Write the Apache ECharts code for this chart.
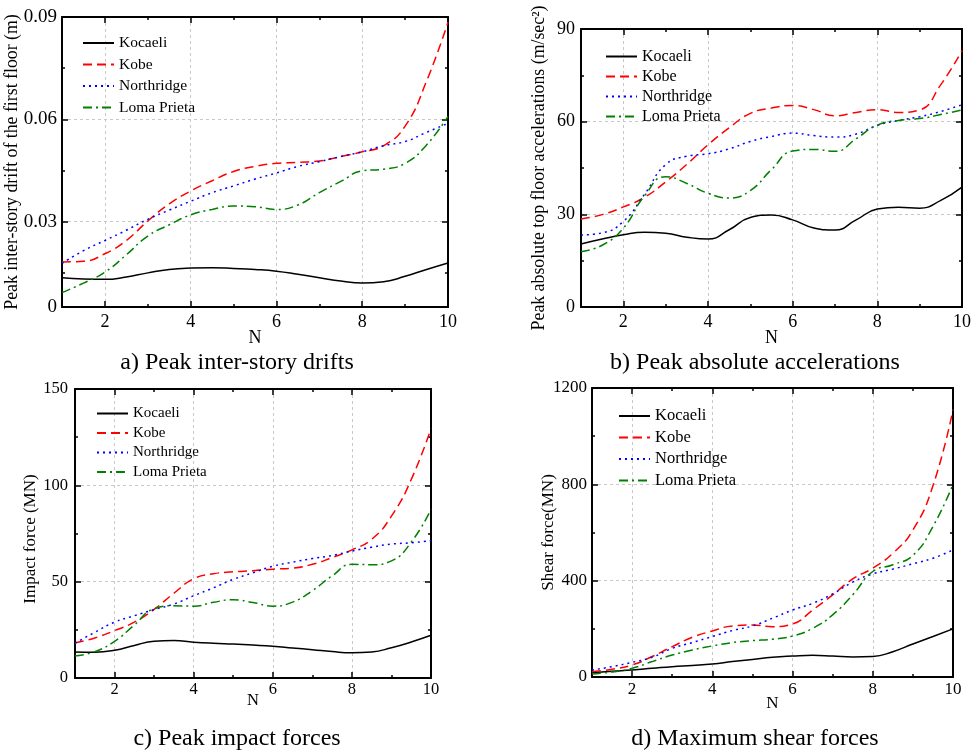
<!DOCTYPE html>
<html><head><meta charset="utf-8">
<script src="https://cdn.jsdelivr.net/npm/echarts@6/dist/echarts.min.js"></script>
<style>html,body{margin:0;padding:0;background:#fff}#c{width:976px;height:752px}</style>
</head><body><div id="c"></div>
<script>
// Story number N (sampled along the curves)
const N = [1,1.5,2,2.5,3,3.5,4,4.5,5,5.5,6,6.5,7,7.5,8,8.5,9,9.5,10];
const seriesNames = ['Kocaeli','Kobe','Northridge','Loma Prieta'];

// a) Peak inter-story drift of the first floor (m)
const kocaeliDrift = [0.0136,0.0132,0.0131,0.0138,0.0150,0.0160,0.0164,0.0165,0.0163,0.0160,0.0155,0.0146,0.0136,0.0126,0.0120,0.0124,0.0140,0.0160,0.0179];
const kobeDrift    = [0.0182,0.0184,0.0206,0.0245,0.0302,0.0352,0.0390,0.0420,0.0447,0.0462,0.0471,0.0474,0.0478,0.0491,0.0505,0.0523,0.0580,0.0712,0.0885];
const northDrift   = [0.0178,0.0215,0.0245,0.0275,0.0307,0.0334,0.0360,0.0385,0.0405,0.0425,0.0443,0.0462,0.0476,0.0491,0.0505,0.0523,0.0535,0.0562,0.0588];
const lomaDrift    = [0.0092,0.0120,0.0152,0.0203,0.0258,0.0291,0.0320,0.0336,0.0346,0.0344,0.0336,0.0349,0.0385,0.0418,0.0449,0.0454,0.0471,0.0525,0.0609];

// b) Peak absolute top floor accelerations (m/sec^2)
const kocaeliAcc = [20.4,22.0,23.4,24.2,23.9,22.6,22.0,25.0,29.0,29.8,28.2,25.6,24.9,28.2,31.7,32.3,32.0,34.5,38.8];
const kobeAcc    = [28.5,29.9,32.4,35.5,40.5,46.2,52.5,58.0,62.7,64.4,65.2,63.9,61.9,63.0,63.9,63.0,63.8,72.0,83.0];
const northAcc   = [23.3,24.0,27.7,36.5,46.1,48.8,49.6,51.2,53.6,55.2,56.3,55.5,55.0,56.0,58.8,60.4,61.6,63.3,65.5];
const lomaAcc    = [17.9,20.0,25.5,36.0,42.2,40.0,36.8,35.3,37.7,44.5,50.5,51.0,50.4,54.5,58.9,60.4,61.0,62.3,63.8];

// c) Impact force (MN)
const kocaeliImp = [13.5,13.4,14.4,16.9,19.1,19.5,18.6,18.0,17.6,17.1,16.5,15.6,14.7,13.7,13.1,13.5,15.7,18.7,22.2];
const kobeImp    = [18.2,20.8,24.6,29.0,35.6,44.0,51.5,54.1,55.1,55.7,56.5,57.0,59.0,62.5,66.5,72.0,84.0,103.0,129.5];
const northImp   = [18.1,23.7,29.0,32.3,35.5,38.4,42.7,46.8,51.2,54.6,58.0,60.1,62.0,63.6,65.9,67.9,69.5,70.2,71.3];
const lomaImp    = [11.4,13.7,19.0,27.5,36.0,37.5,37.3,39.3,40.6,39.2,37.3,39.4,45.3,53.0,59.0,58.8,60.8,70.5,87.5];

// d) Shear force (MN)
const kocaeliShear = [18,24,29,36,43,48,54,64,73,82,87,90,87,83,85,105,137,168,200];
const kobeShear    = [22,32,50,85,126,165,191,212,216,209,220,278,341,407,452,514,610,794,1110];
const northShear   = [29,43,61,82,119,143,168,193,212,244,278,306,345,394,428,448,470,493,528];
const lomaShear    = [12,21,36,64,91,112,129,143,151,157,170,202,258,341,438,466,505,625,800];

// tick values
const xMajorTicks = [2,4,6,8,10];
const xMinorTicks = [3,5,7,9];
const yTicksA = {min:0.005, max:0.09, major:[0.03,0.06,0.09], minor:[0.015,0.045,0.075], labels:[0.005,0.03,0.06,0.09]};
const yTicksB = {min:0, max:90, major:[0,30,60,90], minor:[15,45,75], labels:[0,30,60,90]};
const yTicksC = {min:0, max:150, major:[0,50,100,150], minor:[25,75,125], labels:[0,50,100,150]};
const yTicksD = {min:0, max:1200, major:[0,400,800,1200], minor:[200,600,1000], labels:[0,400,800,1200]};

const FONT = 'Liberation Serif';
const colors = ['#000000','#ff0000','#0000ff','#008000'];
const dashes = ['solid',[9,5],[2,4],[9,4,2,4]];

const panels = [
  {grid:{left:62,top:17,width:386,height:290}, y:yTicksA, yFmt:v => (v < 0.01 ? '0' : String(v)),
   yName:'Peak inter-story drift of the first floor (m)', yNameGap:41, yNameSize:17.8, yNamePad:[0,0,0,0], yLabelMargin:5,
   xLabelMargin:6, xNameGap:22, xFont:18, yFont:19,
   data:[kocaeliDrift,kobeDrift,northDrift,lomaDrift],
   legend:{left:82,top:35,gap:5.5,size:15.5},
   title:{text:'a) Peak inter-story drifts', x:237, y:363}},
  {grid:{left:581,top:29,width:381,height:278}, y:yTicksB, yFmt:v => String(v),
   yName:'Peak absolute top floor accelerations (m/sec\u00B2)', yNameGap:33, yNameSize:17.8, yNamePad:[0,0,0,0], yLabelMargin:6,
   xLabelMargin:6, xNameGap:22, xFont:18, yFont:18,
   data:[kocaeliAcc,kobeAcc,northAcc,lomaAcc],
   legend:{left:605,top:48.5,gap:4,size:16},
   title:{text:'b) Peak absolute accelerations', x:755, y:363}},
  {grid:{left:75,top:389,width:356,height:289}, y:yTicksC, yFmt:v => String(v),
   yName:'Impact force (MN)', yNameGap:36, yNameSize:17, yNamePad:[0,11,0,0], yLabelMargin:7,
   xLabelMargin:3, xNameGap:14, xFont:16.5, yFont:16.5,
   data:[kocaeliImp,kobeImp,northImp,lomaImp],
   legend:{left:96,top:406,gap:4.5,size:15},
   title:{text:'c) Peak impact forces', x:237, y:739}},
  {grid:{left:592,top:388,width:361,height:289}, y:yTicksD, yFmt:v => String(v),
   yName:'Shear force(MN)', yNameGap:35, yNameSize:17, yNamePad:[0,0,0,0], yLabelMargin:5,
   xLabelMargin:4, xNameGap:18, xFont:17, yFont:17,
   data:[kocaeliShear,kobeShear,northShear,lomaShear],
   legend:{left:618,top:407.5,gap:4.5,size:16.5},
   title:{text:'d) Maximum shear forces', x:755, y:739}}
];

const frameLine = {show:true, onZero:false, lineStyle:{color:'#000', width:2}};
const noLine = {show:false, onZero:false};
const tickStyle = {color:'#000', width:1.5};
const gridLine = {show:true, lineStyle:{color:'#c8c8c8', type:[3,3], width:1}};
const textBase = {fontFamily:FONT, color:'#000'};

const xAxis = [], yAxis = [], series = [], legend = [], graphic = [];
panels.forEach((p, g) => {
  const xb = {gridIndex:g, type:'value', min:1, max:10, axisLabel:{show:false}, splitLine:{show:false}};
  xAxis.push(
    Object.assign({}, xb, {position:'bottom', axisLine:frameLine,
      axisTick:{show:true, inside:true, length:6, customValues:xMajorTicks, lineStyle:tickStyle},
      axisLabel:Object.assign({show:true, customValues:xMajorTicks, margin:p.xLabelMargin, fontSize:p.xFont}, textBase),
      splitLine:gridLine,
      name:'N', nameLocation:'middle', nameGap:p.xNameGap, nameMoveOverlap:false,
      nameTextStyle:Object.assign({fontSize:p.xFont}, textBase)}),
    Object.assign({}, xb, {position:'bottom', axisLine:noLine,
      axisTick:{show:true, inside:true, length:3, customValues:xMinorTicks, lineStyle:tickStyle}}),
    Object.assign({}, xb, {position:'top', axisLine:frameLine,
      axisTick:{show:true, inside:true, length:6, customValues:xMajorTicks, lineStyle:tickStyle}}),
    Object.assign({}, xb, {position:'top', axisLine:noLine,
      axisTick:{show:true, inside:true, length:3, customValues:xMinorTicks, lineStyle:tickStyle}})
  );
  const yb = {gridIndex:g, type:'value', min:p.y.min, max:p.y.max, axisLabel:{show:false}, splitLine:{show:false}};
  yAxis.push(
    Object.assign({}, yb, {position:'left', axisLine:frameLine,
      axisTick:{show:true, inside:true, length:6, customValues:p.y.major, lineStyle:tickStyle},
      axisLabel:Object.assign({show:true, customValues:p.y.labels, margin:p.yLabelMargin, fontSize:p.yFont, formatter:p.yFmt}, textBase),
      splitLine:gridLine,
      name:p.yName, nameLocation:'middle', nameGap:p.yNameGap, nameMoveOverlap:false,
      nameTextStyle:Object.assign({fontSize:p.yNameSize, padding:p.yNamePad}, textBase)}),
    Object.assign({}, yb, {position:'left', axisLine:noLine,
      axisTick:{show:true, inside:true, length:3, customValues:p.y.minor, lineStyle:tickStyle}}),
    Object.assign({}, yb, {position:'right', axisLine:frameLine,
      axisTick:{show:true, inside:true, length:6, customValues:p.y.major, lineStyle:tickStyle}}),
    Object.assign({}, yb, {position:'right', axisLine:noLine,
      axisTick:{show:true, inside:true, length:3, customValues:p.y.minor, lineStyle:tickStyle}})
  );
  p.data.forEach((arr, k) => {
    series.push({
      type:'line', name:seriesNames[k], xAxisIndex:4*g, yAxisIndex:4*g,
      data:N.map((x, i) => [x, arr[i]]),
      smooth:0.5, symbol:'none', showSymbol:false,
      lineStyle:{color:colors[k], width:1.5, type:dashes[k]},
      itemStyle:{color:colors[k]}, z:3
    });
  });
  legend.push({
    data:seriesNames, orient:'vertical', left:p.legend.left, top:p.legend.top,
    itemWidth:31, itemHeight:14, itemGap:p.legend.gap, padding:0, selectedMode:false,
    itemStyle:{color:'rgba(0,0,0,0)', opacity:0, borderWidth:0},
    textStyle:Object.assign({fontSize:p.legend.size}, textBase)
  });
  graphic.push({type:'text', x:p.title.x, y:p.title.y,
    style:{text:p.title.text, font:'24px "Liberation Serif"', fill:'#000', align:'center', verticalAlign:'middle'}});
});

const chart = echarts.init(document.getElementById('c'));
chart.setOption({
  animation:false,
  backgroundColor:'#fff',
  grid:panels.map(p => Object.assign({containLabel:false}, p.grid)),
  xAxis, yAxis, series, legend, graphic
});
</script>
</body></html>
